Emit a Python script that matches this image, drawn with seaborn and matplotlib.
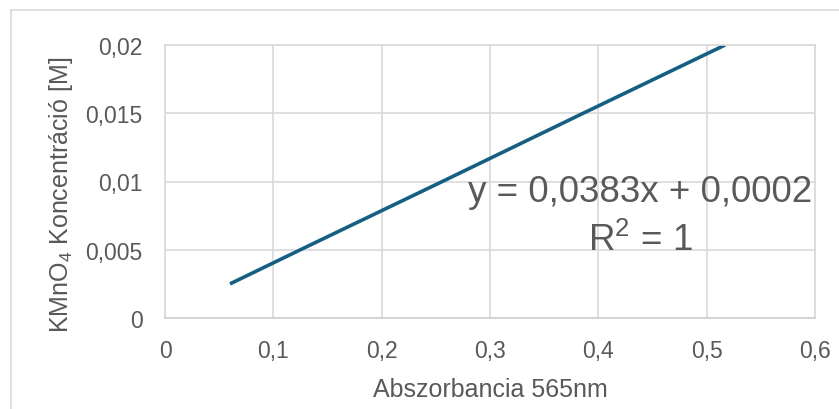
import numpy as np
import pandas as pd
import matplotlib
matplotlib.use('Agg')
import matplotlib.pyplot as plt
from matplotlib.lines import Line2D
from matplotlib.ticker import FuncFormatter, MultipleLocator
import seaborn as sns

# calibration data
absorbance = [0.060, 0.125, 0.256, 0.386, 0.517]
concentration = [0.0025, 0.005, 0.01, 0.015, 0.02]
equation_text = 'y = 0,0383x + 0,0002'
r2_text = 'R$^2$ = 1'
x_label = 'Abszorbancia 565nm'
y_label = 'KMnO$_4$ Koncentráció [M]'

LINE_COLOR = '#156082'
TEXT_COLOR = '#595959'
GRID_COLOR = '#d9d9d9'

sns.set_style('white')
plt.rcParams['font.family'] = ['Liberation Sans', 'DejaVu Sans']
plt.rcParams['mathtext.fontset'] = 'custom'
plt.rcParams['mathtext.rm'] = 'Liberation Sans'
plt.rcParams['mathtext.it'] = 'Liberation Sans'
plt.rcParams['mathtext.default'] = 'regular'

df = pd.DataFrame({'x': absorbance, 'y': concentration})

fig = plt.figure(figsize=(8.39, 4.10), dpi=100)
ax = fig.add_axes([165 / 839, 1 - 319 / 410, (815 - 165) / 839, (319 - 46) / 410])

sns.lineplot(data=df, x='x', y='y', ax=ax, color=LINE_COLOR, linewidth=2.6,
             solid_capstyle='butt')

ax.set_xlim(0, 0.6)
ax.set_ylim(0, 0.02)
ax.xaxis.set_major_locator(MultipleLocator(0.1))
ax.yaxis.set_major_locator(MultipleLocator(0.005))
comma = FuncFormatter(lambda v, p: ('%g' % round(v, 4)).replace('.', ','))
ax.xaxis.set_major_formatter(comma)
ax.yaxis.set_major_formatter(comma)
ax.tick_params(axis='both', length=0, labelsize=16.5, colors=TEXT_COLOR)
ax.tick_params(axis='x', pad=15)
ax.tick_params(axis='y', pad=16)
ax.grid(True, color=GRID_COLOR, linewidth=1.2)
for s in ax.spines.values():
    s.set_color(GRID_COLOR)
    s.set_linewidth(1.2)
ax.spines['bottom'].set_color('#cfcfcf')

ax.set_xlabel(x_label, fontsize=18, color=TEXT_COLOR, labelpad=11)
ax.set_ylabel(y_label, fontsize=18, color=TEXT_COLOR)
ax.yaxis.set_label_coords(-0.139, 0.455)

ax.text(0.4385, 0.0086, equation_text, fontsize=26.5, color=TEXT_COLOR,
        ha='center', va='baseline')
ax.text(0.4385, 0.0050, r2_text, fontsize=26.5, color=TEXT_COLOR,
        ha='center', va='baseline')

# outer chart border (partly cropped in reference)
fig.add_artist(Line2D([11 / 839, 11 / 839], [0, 1 - 11 / 410],
                      transform=fig.transFigure, color=GRID_COLOR, linewidth=1.2))
fig.add_artist(Line2D([11 / 839, 1], [1 - 11 / 410, 1 - 11 / 410],
                      transform=fig.transFigure, color=GRID_COLOR, linewidth=1.2))

fig.savefig('out.png', dpi=100)
